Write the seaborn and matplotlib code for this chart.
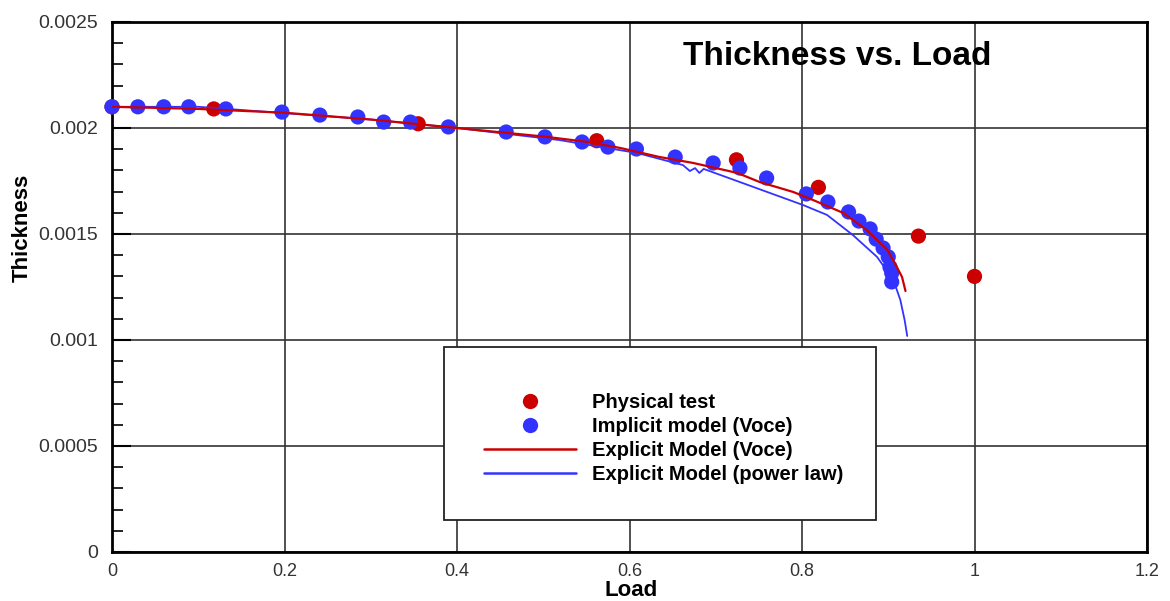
import matplotlib
matplotlib.use("Agg")
import matplotlib.pyplot as plt
from matplotlib.lines import Line2D
from matplotlib.patches import Rectangle
import seaborn as sns
import pandas as pd

# ---------------- data ----------------
phys_x = [0.0, 0.118, 0.355, 0.562, 0.724, 0.819, 0.935, 1.0]
phys_y = [0.0021, 0.00209, 0.00202, 0.00194, 0.00185, 0.00172, 0.00149, 0.0013]

impl_x = [0.0, 0.030, 0.060, 0.089, 0.132, 0.197, 0.241, 0.285, 0.315, 0.346,
          0.390, 0.457, 0.502, 0.545, 0.575, 0.608, 0.653, 0.697, 0.728, 0.759,
          0.805, 0.830, 0.854, 0.866, 0.879, 0.886, 0.894, 0.900, 0.902, 0.904, 0.904]
impl_y = [0.0021, 0.0021, 0.0021, 0.0021, 0.00209, 0.002075, 0.002061, 0.002052,
          0.002028, 0.002028, 0.002005, 0.001981, 0.001958, 0.001934, 0.00191,
          0.001901, 0.001863, 0.001835, 0.001811, 0.001764, 0.001689, 0.001651,
          0.001604, 0.001561, 0.001524, 0.001476, 0.001434, 0.001392, 0.001344,
          0.001316, 0.001274]

voce_x = [0.0, 0.1, 0.2, 0.3, 0.4, 0.5, 0.55, 0.589, 0.635, 0.674, 0.725, 0.751,
          0.790, 0.813, 0.848, 0.875, 0.899, 0.910, 0.916, 0.920]
voce_y = [0.0021, 0.00209, 0.002072, 0.00204, 0.002, 0.00196, 0.001935, 0.001906,
          0.001863, 0.001835, 0.001788, 0.001745, 0.001698, 0.00166, 0.001599,
          0.001519, 0.001425, 0.001344, 0.001297, 0.001231]

pow_x = [0.0, 0.1, 0.2, 0.3, 0.4, 0.519, 0.609, 0.662, 0.670, 0.676, 0.681, 0.686,
         0.728, 0.801, 0.829, 0.859, 0.887, 0.906, 0.914, 0.919, 0.922]
pow_y = [0.0021, 0.0021, 0.00207, 0.00204, 0.002, 0.001943, 0.001882, 0.001825,
         0.001797, 0.001811, 0.001788, 0.001807, 0.001745, 0.001637, 0.00159,
         0.001495, 0.001392, 0.001283, 0.001189, 0.001094, 0.001019]

x_ticks = [0, 0.2, 0.4, 0.6, 0.8, 1.0, 1.2]
x_tick_labels = ["0", "0.2", "0.4", "0.6", "0.8", "1", "1.2"]
y_ticks = [0, 0.0005, 0.001, 0.0015, 0.002, 0.0025]
y_tick_labels = ["0", "0.0005", "0.001", "0.0015", "0.002", "0.0025"]

labels = ["Physical test", "Implicit model (Voce)", "Explicit Model (Voce)",
          "Explicit Model (power law)"]

RED = "#CC0000"
BLUE = "#3333FF"

# ---------------- style ----------------
sns.set_theme(style="white")
plt.rcParams["font.family"] = ["Liberation Sans", "DejaVu Sans"]

fig, ax = plt.subplots(figsize=(11.7, 6.01), dpi=100)
fig.subplots_adjust(left=112/1170, right=1147/1170, top=1-22/601, bottom=1-552/601)

df_phys = pd.DataFrame({"x": phys_x, "y": phys_y})
df_impl = pd.DataFrame({"x": impl_x, "y": impl_y})
df_voce = pd.DataFrame({"x": voce_x, "y": voce_y})
df_pow = pd.DataFrame({"x": pow_x, "y": pow_y})

sns.scatterplot(data=df_phys, x="x", y="y", ax=ax, color=RED, s=120, marker="o",
                edgecolor="none", zorder=3, clip_on=False)
sns.scatterplot(data=df_impl, x="x", y="y", ax=ax, color=BLUE, s=120, marker="o",
                edgecolor="none", zorder=4, clip_on=False)
sns.lineplot(data=df_pow, x="x", y="y", ax=ax, color=BLUE, lw=1.3, sort=False,
             estimator=None, zorder=5)
sns.lineplot(data=df_voce, x="x", y="y", ax=ax, color=RED, lw=1.6, sort=False,
             estimator=None, zorder=6)

ax.set_xlim(0, 1.2)
ax.set_ylim(0, 0.0025)
ax.set_xticks(x_ticks)
ax.set_xticklabels(x_tick_labels)
ax.set_yticks(y_ticks)
ax.set_yticklabels(y_tick_labels)
ax.set_yticks([i * 0.0001 for i in range(26) if i % 5 != 0], minor=True)

ax.grid(True, which="major", color="#333333", lw=1.2)
ax.set_axisbelow(True)
for sp in ax.spines.values():
    sp.set_visible(True)
    sp.set_color("black")
    sp.set_linewidth(2.0)

ax.tick_params(axis="y", which="major", direction="in", length=14, width=1.5,
               color="black", left=True, pad=10, labelsize=14, labelcolor="#333333")
ax.tick_params(axis="y", which="minor", direction="in", length=8, width=1.2,
               color="black", left=True)
ax.tick_params(axis="x", which="major", direction="in", length=0, pad=8,
               labelsize=13, labelcolor="#333333")

ax.set_xlabel("Load", fontsize=16, fontweight="bold", color="black")
ax.xaxis.set_label_coords(0.502, (552 - 590) / 530)
ax.xaxis.label.set_va("center")
ax.set_ylabel("Thickness", fontsize=16, fontweight="bold", color="black")
ax.yaxis.set_label_coords((22 - 112) / 1035, (552 - 228) / 530)
ax.yaxis.label.set_va("center")
ax.yaxis.label.set_ha("center")

ax.text(0.701, 0.934, "Thickness vs. Load", transform=ax.transAxes, ha="center",
        va="center", fontsize=24, fontweight="bold", color="black")

# legend box
box = Rectangle((0.321, 0.060), 0.738 - 0.321, 0.387 - 0.060, transform=ax.transAxes,
                facecolor="white", edgecolor="#222222", lw=1.3, zorder=2.5)
ax.add_patch(box)

handles = [
    Line2D([], [], ls="none", marker="o", markersize=11, color=RED, markeredgewidth=0),
    Line2D([], [], ls="none", marker="o", markersize=11, color=BLUE, markeredgewidth=0),
    Line2D([], [], color=RED, lw=1.8),
    Line2D([], [], color=BLUE, lw=1.8),
]
leg = ax.legend(handles, labels, loc="center", bbox_to_anchor=(0.533, 0.214),
                frameon=False, handlelength=4.6, handletextpad=0.8,
                labelspacing=0.25, labelcolor="black",
                prop={"family": "Liberation Sans", "weight": "bold", "size": 14.5})
leg.set_zorder(7)

fig.savefig("out.png", dpi=100, facecolor="white")
